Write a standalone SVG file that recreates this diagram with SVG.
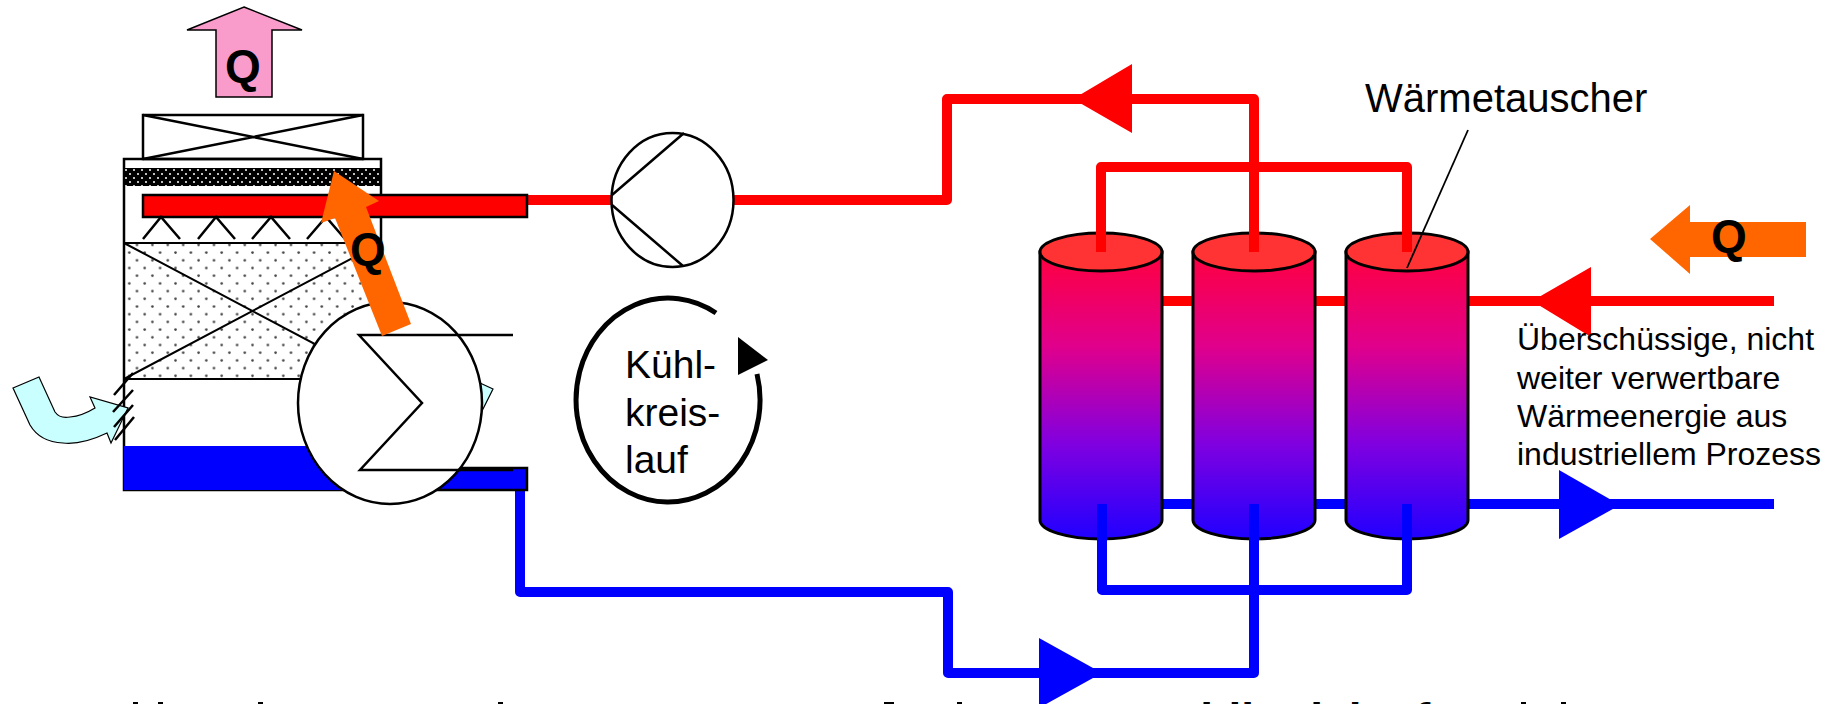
<svg xmlns="http://www.w3.org/2000/svg" width="1834" height="704" viewBox="0 0 1834 704">
<style>
text{font-family:"Liberation Sans",Arial,sans-serif;fill:#000}
.lb{font-size:39px}
.wt{font-size:40px}
.sm{font-size:32px}
.q{font-size:46px;font-weight:bold}
.bt{font-size:46px;font-weight:bold}
.red{fill:none;stroke:#f00;stroke-width:10;stroke-linejoin:round}
.blue{fill:none;stroke:#00f;stroke-width:10;stroke-linejoin:round}
.k{fill:none;stroke:#000;stroke-width:2.5}
.t{fill:none;stroke:#000;stroke-width:2}
.cyl{fill:url(#g);stroke:#000;stroke-width:3}
.top{fill:#f33;stroke:#000;stroke-width:3}
</style>
<defs>
<linearGradient id="g" x1="0" y1="0" x2="0" y2="1"><stop offset="0" stop-color="#ff0040"/><stop offset=".33" stop-color="#e0008c"/><stop offset=".67" stop-color="#8000e0"/><stop offset="1" stop-color="#2000ff"/></linearGradient>
<pattern id="dots" width="15.4" height="15.4" patternUnits="userSpaceOnUse" x="127.8" y="343.5"><circle cx="1.5" cy="1.5" r="1.3" fill="#444"/><circle cx="9.2" cy="9.2" r="1.3" fill="#444"/></pattern>
<pattern id="dark" width="8" height="8" patternUnits="userSpaceOnUse" x="124" y="168"><rect width="8" height="8" fill="#000"/><circle cx="2" cy="2" r="1" fill="#fff"/><circle cx="6" cy="6" r="1" fill="#fff"/></pattern>
</defs>
<g id="connectors">
<path class="red" d="M527 200H733M733 200H947V99H1254V252"/>
<path class="red" d="M1101 252V167H1407V252"/>
<path class="red" d="M1160 301H1774"/>
<path class="blue" d="M1100 504H1774"/>
<path class="blue" d="M520 470V592H948V673H1254V504"/>
<path class="blue" d="M1102 504V590H1407V504"/>
<polygon points="1073,99 1132,64 1132,133" fill="#f00"/>
<polygon points="1532,301 1591,267 1591,337" fill="#f00"/>
<polygon points="1620,505 1559,470 1559,539" fill="#00f"/>
<polygon points="1102,673 1039,638 1039,708" fill="#00f"/>
</g>
<g id="exchangers">
<g id="hx1"><path class="cyl" d="M1040 252V520A61 19 0 0 0 1162 520V252Z"/><ellipse class="top" cx="1101" cy="252" rx="61" ry="19"/></g>
<g id="hx2"><path class="cyl" d="M1193 252V520A61 19 0 0 0 1315 520V252Z"/><ellipse class="top" cx="1254" cy="252" rx="61" ry="19"/></g>
<g id="hx3"><path class="cyl" d="M1346 252V520A61 19 0 0 0 1468 520V252Z"/><ellipse class="top" cx="1407" cy="252" rx="61" ry="19"/></g>
<path class="red" d="M1101 172V252M1254 172V252M1407 172V252"/>
<path class="blue" d="M1102 504V590M1254 504V600M1407 504V590"/>
<path d="M1468 130L1407 268" fill="none" stroke="#000" stroke-width="1.8"/>
</g>
<g id="tower">
<rect x="124" y="159" width="257" height="331" fill="#fff" stroke="#000" stroke-width="2.5"/>
<rect x="143" y="115" width="220" height="44" fill="#fff" class="k"/>
<path class="k" d="M143 115L363 159M143 159L363 115"/>
<rect x="124" y="168" width="257" height="18" fill="url(#dark)"/>
<rect x="125" y="243" width="255" height="136" fill="url(#dots)"/>
<path d="M124 243H381M124 379H381" class="t"/>
<path class="t" d="M124 243L381 379M124 379L381 243"/>
<rect x="124" y="446" width="258" height="44" fill="#00f"/>
<rect x="143" y="195" width="384" height="22" fill="#f00" stroke="#000" stroke-width="2.5"/>
<path class="k" d="M143 239L161 217L180 239M198 239L216 217L235 239M252 239L271 217L290 239M307 239L326 217L345 239"/>
<rect x="381" y="468" width="146" height="22" fill="#00f" stroke="#000" stroke-width="2.5"/>
<path d="M13 388L39 377L55 412Q60 419 70 417Q82 416 95 408L90 397L128 408L111 443L107 433Q82 445 63 443Q40 442 30 425Z" fill="#c9ffff" stroke="#000" stroke-width="1.2"/>
<path d="M114 395L133 373M113 412L133 390M114 427L133 405M115 440L134 417" class="k"/>
<polygon points="480,383 493,389 482,411" fill="#c9ffff" stroke="#000" stroke-width="1.2"/>
</g>
<g id="heat-in"><polygon points="244,7 302,30 272,30 272,97 216,97 216,30 187,30" fill="#f99ccb" stroke="#000" stroke-width="1.5"/><text class="q" x="225" y="82">Q</text></g>
<g id="heat-out"><polygon points="1650,239 1690,205 1690,222 1806,222 1806,257 1690,257 1690,274" fill="#f60"/><text class="q" x="1711" y="252">Q</text></g>
<g id="pump"><ellipse class="k" style="fill:#fff" cx="672.5" cy="200" rx="61" ry="67"/><path class="k" d="M612 195L684 133M612 205L683 266"/></g>
<g id="condenser"><ellipse cx="390" cy="403" rx="92" ry="101" fill="#fff" stroke="#000" stroke-width="2.5"/><path class="k" d="M513 335H359L422 403L360 470H513"/><polygon points="334,171 379,201 366,207 411,324 382,336 335,218 321,223" fill="#f60"/><text class="q" x="350" y="265">Q</text></g>
<g id="cycle"><path d="M716 313A92 102 0 1 0 757 374" fill="none" stroke="#000" stroke-width="5"/><polygon points="738,337 768,360 738,375" fill="#000"/></g>
<g id="labels">
<text class="lb" x="625" y="378">Kühl-</text><text class="lb" x="625" y="426">kreis-</text><text class="lb" x="625" y="473">lauf</text>
<text class="wt" x="1365" y="112">Wärmetauscher</text>
<text class="sm" x="1517" y="350">Überschüssige, nicht</text><text class="sm" x="1517" y="389">weiter verwertbare</text><text class="sm" x="1517" y="427">Wärmeenergie aus</text><text class="sm" x="1517" y="465">industriellem Prozess</text>
<text class="bt" x="1139" y="736">Kühlkreislauf</text>
</g>
<g id="clipped-caption-remnants" fill="#000">
<rect x="133" y="702" width="5" height="2"/><rect x="158" y="702" width="5" height="2"/><rect x="258" y="702" width="5" height="2"/><rect x="498" y="702" width="5" height="2"/>
<rect x="884" y="702" width="10" height="2"/><rect x="957" y="702" width="5" height="2"/><rect x="1521" y="702" width="5" height="2"/><rect x="1561" y="702" width="5" height="2"/>
</g>
</svg>
